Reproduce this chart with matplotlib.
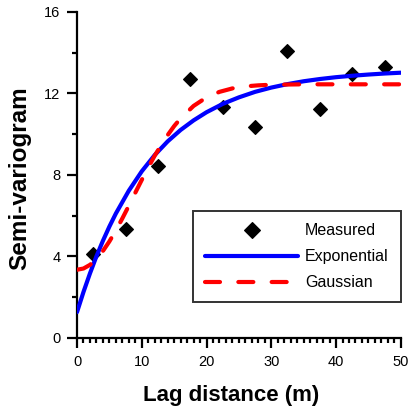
import matplotlib.pyplot as plt

# measured semi-variogram
lag = [2.5, 7.5, 12.5, 17.5, 22.5, 27.5, 32.5, 37.5, 42.5, 47.5]
gamma = [4.1, 5.33, 8.43, 12.71, 11.36, 10.34, 14.07, 11.24, 12.96, 13.28]

# fitted model curves
exp_x = [0, 1, 2, 3, 4, 5, 6, 8, 10, 12, 14, 16, 18, 20, 22.5, 25, 27.5,
         30, 32.5, 35, 37.5, 40, 42.5, 45, 47.5, 50]
exp_y = [1.27, 2.26, 3.17, 4.01, 4.77, 5.47, 6.11, 7.23, 8.18, 8.98, 9.65,
         10.21, 10.68, 11.08, 11.49, 11.81, 12.08, 12.29, 12.46, 12.60,
         12.71, 12.80, 12.87, 12.93, 12.98, 13.02]

gau_x = [0, 1, 2, 3, 4, 5, 6, 7, 8, 9, 10, 11, 12, 13, 14, 15, 16, 18, 20,
         22, 24, 26, 28, 30, 35, 40, 45, 50]
gau_y = [3.35, 3.41, 3.59, 3.88, 4.27, 4.74, 5.28, 5.87, 6.49, 7.13, 7.76,
         8.37, 8.95, 9.47, 9.96, 10.40, 10.78, 11.39, 11.81, 12.08, 12.25,
         12.35, 12.40, 12.43, 12.45, 12.45, 12.45, 12.45]

plt.rcParams['font.family'] = ['Liberation Sans', 'DejaVu Sans']

fig = plt.figure(figsize=(4.09, 4.09), dpi=100)
ax = fig.add_axes([0.1883, 0.1736, 0.7917, 0.7971])

ax.plot(lag, gamma, 'D', color='black', ms=6.8, mew=0.8, label='Measured',
        clip_on=False, zorder=2)
ax.plot(exp_x, exp_y, color='#0000ff', lw=3, solid_capstyle='round',
        label='Exponential', zorder=3)
ax.plot(gau_x, gau_y, color='#ff0000', lw=3, dash_capstyle='round',
        dashes=(3.6, 4.4), label='Gaussian', zorder=4)

ax.set_xlim(0, 50)
ax.set_ylim(0, 16)
ax.set_xticks([0, 10, 20, 30, 40, 50])
ax.set_xticks(range(0, 51), minor=True)
ax.set_yticks([0, 4, 8, 12, 16])
ax.set_yticks([2, 6, 10, 14], minor=True)

for s in ['top', 'right']:
    ax.spines[s].set_visible(False)
for s in ['left', 'bottom']:
    ax.spines[s].set_linewidth(1.6)

ax.tick_params(which='major', direction='out', length=7, width=1.6,
               labelsize=10.5, pad=5)
ax.tick_params(which='minor', direction='out', length=3.5, width=1.6)

ax.set_xlabel('Lag distance (m)', fontsize=16, fontweight='bold')
ax.set_ylabel('Semi-variogram', fontsize=17.5, fontweight='bold')
ax.xaxis.set_label_coords(0.475, -0.145)
ax.yaxis.set_label_coords(-0.14, 0.49)

leg = ax.legend(loc='lower right', bbox_to_anchor=(1.0, 0.11), fontsize=11.5,
                frameon=True, fancybox=False, edgecolor='black',
                handlelength=5.8, handletextpad=0.45, borderpad=0.75,
                labelspacing=0.68, borderaxespad=0, markerscale=1.15)
leg.get_frame().set_linewidth(1.4)

fig.savefig('out.png', dpi=100)
